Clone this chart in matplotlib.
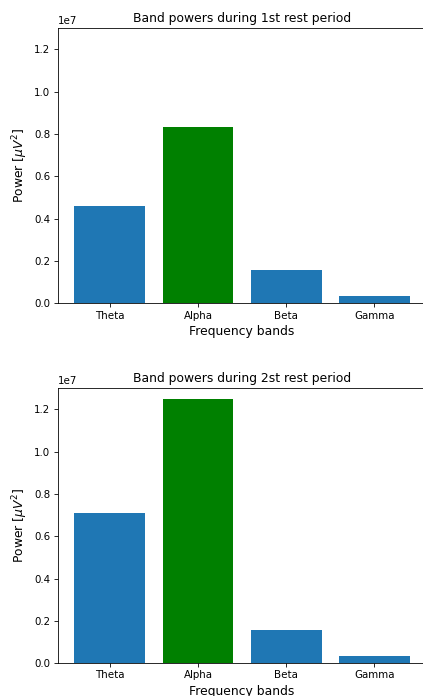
import matplotlib
matplotlib.use("Agg")
import matplotlib.pyplot as plt

bands = ["Theta", "Alpha", "Beta", "Gamma"]
rest1 = [4.59e6, 8.33e6, 1.59e6, 0.345e6]
rest2 = [7.08e6, 1.2505e7, 1.59e6, 0.345e6]
colors = ["#1f77b4", "green", "#1f77b4", "#1f77b4"]
titles = ["Band powers during 1st rest period", "Band powers during 2st rest period"]

s = 0.74
fig = plt.figure(figsize=(4.23, 6.96), dpi=100)
positions = [[0.1364, 0.5642, 0.872, 0.3956], [0.1364, 0.047, 0.872, 0.3955]]

for pos, vals, title in zip(positions, [rest1, rest2], titles):
    ax = fig.add_axes(pos)
    ax.bar(bands, vals, color=colors)
    ax.set_ylim(0, 1.3e7)
    ax.set_title(title, fontsize=12 * s, pad=6 * s)
    ax.set_xlabel("Frequency bands", fontsize=12 * s, labelpad=4 * s)
    ax.set_ylabel(r"Power [$\mu V^2$]", fontsize=12 * s, labelpad=4 * s)
    ax.tick_params(labelsize=10 * s, width=0.8 * s, length=3.5 * s, pad=3.5 * s)
    for sp in ax.spines.values():
        sp.set_linewidth(0.8 * s)
    ax.yaxis.get_offset_text().set_fontsize(10 * s)

fig.savefig("out.png", dpi=100)
